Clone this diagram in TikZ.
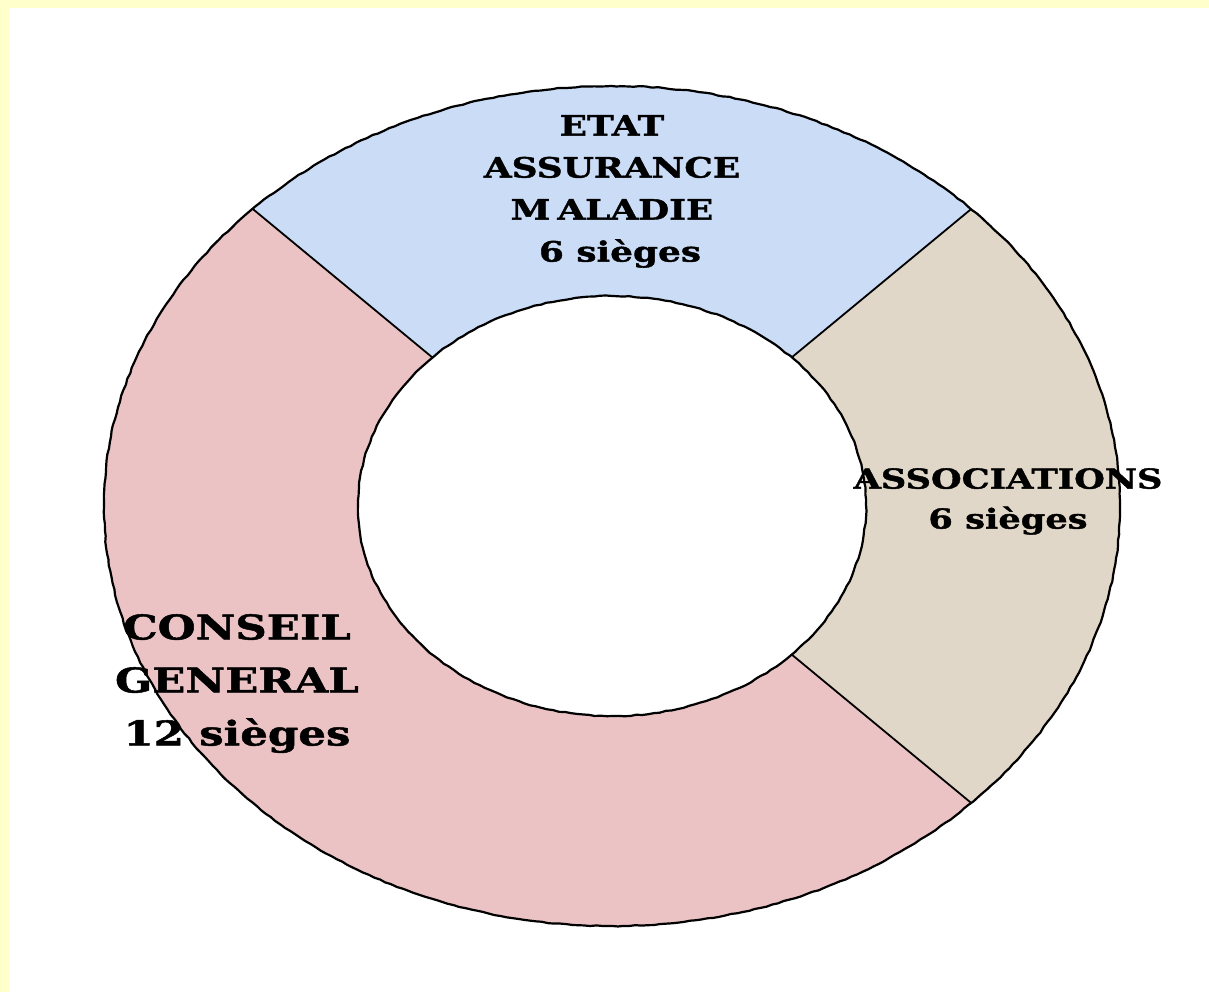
\documentclass[tikz,border=0pt]{standalone}
\usepackage{fontspec}
\usetikzlibrary{calc,decorations.pathmorphing}
\newfontfamily\labfont{DejaVu Serif}[FakeStretch=1.28,FakeBold=1.4]
\definecolor{bgyellow}{HTML}{FFFFCC}
\definecolor{segblue}{HTML}{CADCF6}
\definecolor{segtan}{HTML}{E1D7C8}
\definecolor{segpink}{HTML}{EBC3C5}
\tikzset{
  outline/.style={draw=black, line width=2.2pt, decorate,
    decoration={random steps, segment length=6pt, amplitude=0.5pt}},
  sepline/.style={draw=black, line width=1.8pt},
  lab/.style={align=center, inner sep=0pt, anchor=north, text=black},
}
\begin{document}
\begin{tikzpicture}[x=1pt,y=1pt]
\useasboundingbox (0,0) rectangle (1209,992);
\fill[bgyellow] (0,0) rectangle (1209,992);
\fill[white] (9,0) rectangle (1209,984);
\coordinate (c) at (612,486);
% top sector (blue)
\fill[segblue] ($(c)+(45:508pt and 420pt)$) arc[start angle=45,end angle=135,x radius=508pt,y radius=420pt]
  -- ($(c)+(135:254pt and 210pt)$) arc[start angle=135,end angle=45,x radius=254pt,y radius=210pt] -- cycle;
% right sector (tan)
\fill[segtan] ($(c)+(-45:508pt and 420pt)$) arc[start angle=-45,end angle=45,x radius=508pt,y radius=420pt]
  -- ($(c)+(45:254pt and 210pt)$) arc[start angle=45,end angle=-45,x radius=254pt,y radius=210pt] -- cycle;
% left/bottom sector (pink)
\fill[segpink] ($(c)+(135:508pt and 420pt)$) arc[start angle=135,end angle=315,x radius=508pt,y radius=420pt]
  -- ($(c)+(315:254pt and 210pt)$) arc[start angle=315,end angle=135,x radius=254pt,y radius=210pt] -- cycle;
% outlines
\draw[outline] (c) ellipse[x radius=508pt,y radius=420pt];
\draw[outline] (c) ellipse[x radius=254pt,y radius=210pt];
\coordinate (o45) at ($(c)+(45:508pt and 420pt)$);
\coordinate (i45) at ($(c)+(45:254pt and 210pt)$);
\coordinate (o135) at ($(c)+(135:508pt and 420pt)$);
\coordinate (i135) at ($(c)+(135:254pt and 210pt)$);
\coordinate (o315) at ($(c)+(315:508pt and 420pt)$);
\coordinate (i315) at ($(c)+(315:254pt and 210pt)$);
\draw[sepline] (o45) -- (i45);
\draw[sepline] (o135) -- (i135);
\draw[sepline] (o315) -- (i315);
% labels
\node[lab, font={\labfont\bfseries\fontsize{28}{42}\selectfont}] (etat) at (612,877)
  {ETAT\\ASSURANCE\\M\kern0.25em ALADIE\\\hspace*{16pt}6 sièges};
\node[lab, font={\labfont\bfseries\fontsize{27.5}{40}\selectfont}] (assoc) at (1008,524)
  {ASSOCIATIONS\\6 sièges};
\node[lab, font={\labfont\bfseries\fontsize{34}{53}\selectfont}] (cg) at (237,378)
  {CONSEIL\\GENERAL\\12 sièges};
\end{tikzpicture}
\end{document}
